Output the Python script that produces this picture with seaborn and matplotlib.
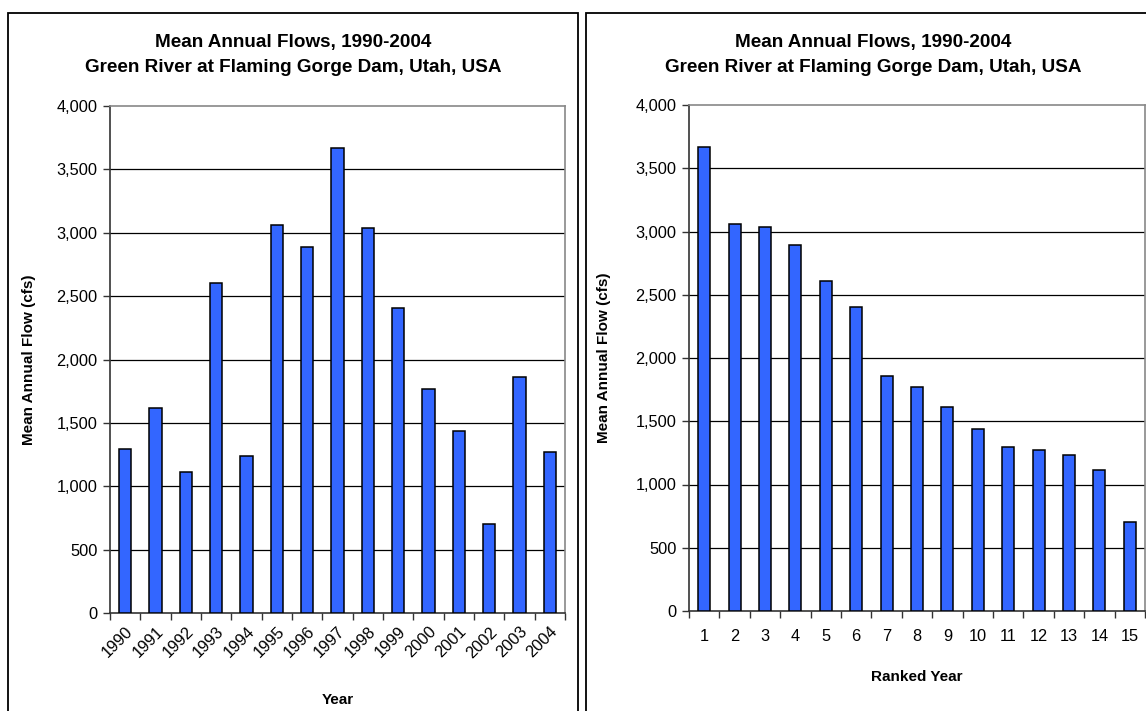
import numpy as np
import pandas as pd
import matplotlib
matplotlib.use("Agg")
import matplotlib.pyplot as plt
from matplotlib.patches import Rectangle
import seaborn as sns

# Mean annual flow (cfs), Green River at Flaming Gorge Dam
years = [1990, 1991, 1992, 1993, 1994, 1995, 1996, 1997, 1998, 1999,
         2000, 2001, 2002, 2003, 2004]
flows = [1295, 1615, 1115, 2605, 1235, 3060, 2890, 3665, 3035, 2405,
         1770, 1435, 700, 1860, 1270]

# Same flows ranked from wettest to driest year
ranked_flows = sorted(flows, reverse=True)
ranks = list(range(1, len(ranked_flows) + 1))

title_lines = ["Mean Annual Flows, 1990-2004",
               "Green River at Flaming Gorge Dam, Utah, USA"]
y_ticks = [0, 500, 1000, 1500, 2000, 2500, 3000, 3500, 4000]

BAR = "#3366FF"
W, H = 1146, 711
TICK_FS = 11.8
LABEL_FS = 11
TITLE_FS = 13.6

sns.set_theme(style="white")
plt.rcParams["font.family"] = ["Liberation Sans", "DejaVu Sans"]
plt.rcParams["text.color"] = "black"

fig = plt.figure(figsize=(W / 100, H / 100), dpi=100)


def px_axes(x0, y0, x1, y1):
    return fig.add_axes([x0 / W, 1 - y1 / H, (x1 - x0) / W, (y1 - y0) / H])


def style_axes(ax, n):
    ax.set_xlim(-0.5, n - 0.5)
    ax.set_ylim(0, 4000)
    ax.set_yticks(y_ticks)
    ax.set_yticklabels([f"{v:,}" for v in y_ticks], fontsize=TICK_FS,
                       color="black")
    ax.grid(False)
    for v in y_ticks[1:-1]:
        ax.axhline(v, color="black", lw=0.9, zorder=0)
    # tick marks sit between the categories
    ax.set_xticks(np.arange(-0.5, n, 1.0), minor=True)
    ax.tick_params(axis="x", which="major", length=0, labelsize=TICK_FS,
                   labelcolor="black")
    ax.tick_params(axis="x", which="minor", length=5, width=1,
                   color="#333333", direction="out", bottom=True)
    ax.tick_params(axis="y", length=5, width=1, color="#333333",
                   direction="out", left=True, pad=4)
    for side in ["left", "bottom"]:
        ax.spines[side].set_color("#333333")
        ax.spines[side].set_linewidth(1.2)
    for side in ["top", "right"]:
        ax.spines[side].set_color("#888888")
        ax.spines[side].set_linewidth(1.2)
    ax.set_ylabel("Mean Annual Flow (cfs)", fontsize=LABEL_FS,
                  fontweight="bold", color="black")


def panel(x0, x1):
    fig.add_artist(Rectangle((x0 / W, -0.1), (x1 - x0) / W, 1 - 13 / H + 0.1,
                             transform=fig.transFigure, fill=False,
                             edgecolor="black", lw=1.3))
    cx = (x0 + x1) / 2 / W
    fig.text(cx, 1 - 43 / H, title_lines[0], ha="center", va="center",
             fontsize=TITLE_FS, fontweight="bold", color="black")
    fig.text(cx, 1 - 68 / H, title_lines[1], ha="center", va="center",
             fontsize=TITLE_FS, fontweight="bold", color="black")


# Left: flows by calendar year
panel(8, 578)
ax1 = px_axes(110, 106, 565, 613)
df1 = pd.DataFrame({"Year": [str(y) for y in years], "Flow": flows})
sns.barplot(data=df1, x="Year", y="Flow", color=BAR, saturation=1,
            width=0.4, edgecolor="black", linewidth=1.1, ax=ax1, zorder=3)
style_axes(ax1, len(years))
for lbl in ax1.get_xticklabels():
    lbl.set_rotation(45)
    lbl.set_ha("right")
    lbl.set_rotation_mode("anchor")
ax1.tick_params(axis="x", which="major", pad=8)
ax1.set_xlabel("Year", fontsize=LABEL_FS, fontweight="bold", color="black",
               labelpad=23)
ax1.yaxis.set_label_coords(-0.163, 0.5)

# Right: flows ranked by size
panel(586, 1160)
ax2 = px_axes(689, 105, 1145, 611)
df2 = pd.DataFrame({"Rank": [str(r) for r in ranks], "Flow": ranked_flows})
sns.barplot(data=df2, x="Rank", y="Flow", color=BAR, saturation=1,
            width=0.4, edgecolor="black", linewidth=1.1, ax=ax2, zorder=3)
style_axes(ax2, len(ranks))
ax2.tick_params(axis="x", which="major", pad=13)
ax2.set_xlabel("Ranked Year", fontsize=LABEL_FS, fontweight="bold",
               color="black", labelpad=19)
ax2.yaxis.set_label_coords(-0.171, 0.5)

fig.savefig("out.png", dpi=100)
